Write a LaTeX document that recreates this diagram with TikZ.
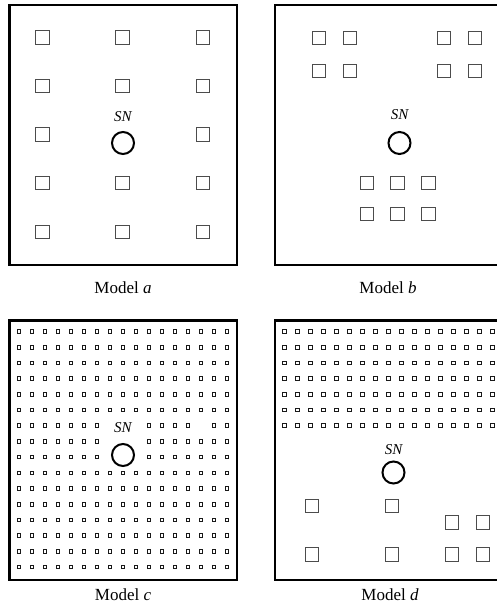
\documentclass[tikz,border=0pt]{standalone}
\usepackage{fontspec}
\setmainfont{Liberation Serif}
\begin{document}
\begin{tikzpicture}[x=1pt,y=-1pt,
  frame/.style={draw=black,line width=2.4pt},
  sensor/.style={draw=black!70,line width=1.2pt,minimum size=13.6pt,inner sep=0pt,shape=rectangle},
  tiny/.style={draw=black!90,line width=1pt,minimum size=3.6pt,inner sep=0pt,shape=rectangle},
  sink/.style={draw=black,line width=2pt,circle,minimum size=22pt,inner sep=0pt},
  snlabel/.style={font=\fontsize{15}{15}\selectfont\itshape,inner sep=0pt},
  caption/.style={font=\fontsize{17}{17}\selectfont,inner sep=0pt}]
\clip (0,0) rectangle (497,615);
\fill[white] (0,0) rectangle (497,615);

% frames
\draw[frame] (9.5,5) rectangle (237,265);
\draw[frame] (275,5) rectangle (502.5,265);
\draw[frame] (9.5,320.5) rectangle (237,580);
\draw[frame] (275,320.5) rectangle (502.5,580);

% ---- Model a
\foreach \i/\x in {0/42.5,1/122.5,2/203}{
  \foreach \j/\y in {0/37.5,1/86,2/134.5,3/183,4/232}{
    \ifnum\i=1 \ifnum\j=2 \else
      \node[sensor] (a-\i-\j) at (\x,\y) {};
    \fi\else
      \node[sensor] (a-\i-\j) at (\x,\y) {};
    \fi
  }
}
\node[sink] (sna) at (123,143) {};
\node[snlabel] (sntxta) at (123,117) {SN};
\node[caption] (capa) at (123,288) {Model \textit{a}};

% ---- Model b
\foreach \x/\y [count=\k] in {319/38,350/38,319/71,350/71,444/38,475/38,444/71,475/71,
  367/183,397.5/183,428.5/183,367/214,397.5/214,428.5/214}{
  \node[sensor] (b-\k) at (\x,\y) {};
}
\node[sink] (snb) at (399.5,143) {};
\node[snlabel] (sntxtb) at (399.5,115) {SN};
\node[caption] (capb) at (388,288) {Model \textit{b}};

% ---- Model c
\foreach \i in {0,...,16}{
  \foreach \j in {0,...,15}{
    \pgfmathtruncatemacro{\skip}{((\j>=6)&&(\j<=8)&&(\i>=7)&&(\i<=9)) || ((\j==6)&&(\i==14)) ? 1 : 0}
    \ifnum\skip=0
      \node[tiny] (c-\i-\j) at ({19+13*\i},{331.5+15.7*\j}) {};
    \fi
  }
}
\node[sink] (snc) at (123,455) {};
\node[snlabel] (sntxtc) at (123,428) {SN};
\node[caption] (capc) at (123,595) {Model \textit{c}};

% ---- Model d
\foreach \i in {0,...,16}{
  \foreach \j in {0,...,6}{
    \node[tiny] (d-\i-\j) at ({284.5+13*\i},{331.5+15.7*\j}) {};
  }
}
\foreach \x/\y [count=\k] in {312/506,392/506,452/522.5,483/522.5,312/554.5,392/554.5,452/554.5,483/554.5}{
  \node[sensor] (dd-\k) at (\x,\y) {};
}
\node[sink] (snd) at (393.5,472.5) {};
\node[snlabel] (sntxtd) at (393.5,450) {SN};
\node[caption] (capd) at (390,595) {Model \textit{d}};
\end{tikzpicture}
\end{document}
